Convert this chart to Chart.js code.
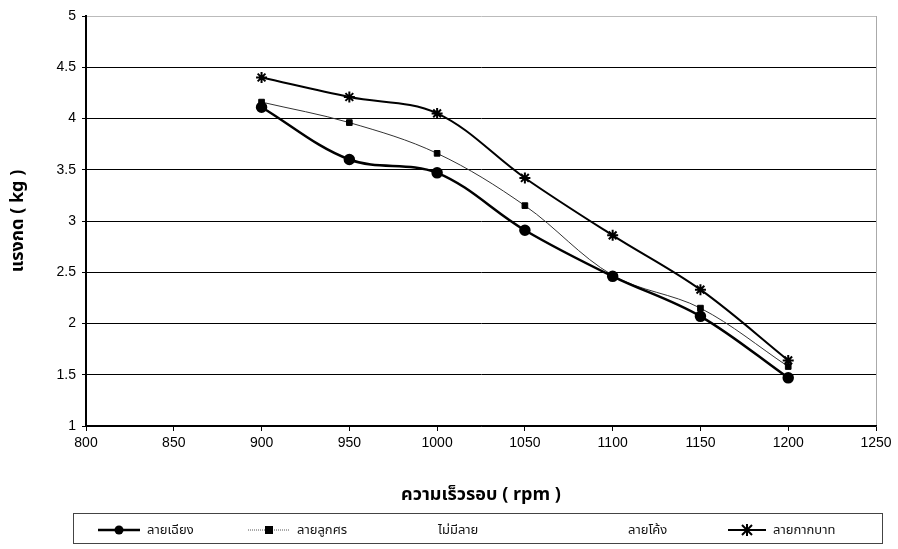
<!DOCTYPE html>
<html>
<head>
<meta charset="utf-8">
<script src="https://cdn.jsdelivr.net/npm/chart.js@4"></script>
<style>
  body { margin:0; background:#fff; }
  #wrap { position:relative; width:898px; height:549px; }
  #legend { position:absolute; left:73px; top:513px; width:810px; height:31px; border:1px solid #444; box-sizing:border-box;
    font-family:"Noto Sans Thai","Noto Sans","Liberation Sans",sans-serif; font-size:13px; color:#111; }
  #legend .it { position:absolute; top:6px; display:flex; align-items:center; white-space:nowrap; }
  #legend svg { margin-right:7px; }
</style>
</head>
<body>
<div id="wrap">
  <canvas id="c" width="898" height="549"></canvas>
  <div id="legend"></div>
</div>
<script>
const rpm = [900, 950, 1000, 1050, 1100, 1150, 1200];
const diagonal = [4.11, 3.60, 3.47, 2.91, 2.46, 2.07, 1.47];   // ลายเฉียง
const arrow    = [4.16, 3.96, 3.66, 3.15, 2.47, 2.15, 1.58];   // ลายลูกศร
const plain    = [];                                             // ไม่มีลาย (not visible in scan)
const curve    = [];                                             // ลายโค้ง (not visible in scan)
const cross    = [4.40, 4.21, 4.05, 3.42, 2.86, 2.33, 1.64];   // ลายกากบาท
const seriesNames = ['ลายเฉียง', 'ลายลูกศร', 'ไม่มีลาย', 'ลายโค้ง', 'ลายกากบาท'];
const yTicks = [1, 1.5, 2, 2.5, 3, 3.5, 4, 4.5, 5];

const pts = vals => vals.map((v, i) => ({ x: rpm[i], y: v }));
const font = 'Liberation Sans, Arial, sans-serif';
const thaiFont = '"Noto Sans Thai", "Noto Sans", "Liberation Sans", sans-serif';

new Chart(document.getElementById('c'), {
  type: 'line',
  data: {
    datasets: [
      { label: seriesNames[0], data: pts(diagonal), borderColor: '#000', backgroundColor: '#000', borderWidth: 2.5,
        pointStyle: 'circle', pointRadius: 4.5, tension: 0.35 },
      { label: seriesNames[1], data: pts(arrow), borderColor: '#333', backgroundColor: '#000', borderWidth: 1,
        pointStyle: 'rect', pointRadius: 4, pointBorderColor: '#000', tension: 0.35 },
      { label: seriesNames[2], data: pts(plain), borderColor: '#fff', borderWidth: 1, pointRadius: 0 },
      { label: seriesNames[3], data: pts(curve), borderColor: '#fff', borderWidth: 1, pointRadius: 0 },
      { label: seriesNames[4], data: pts(cross), borderColor: '#000', backgroundColor: '#000', borderWidth: 2,
        pointStyle: 'star', pointRadius: 5.5, pointBorderWidth: 2, tension: 0.35 }
    ]
  },
  options: {
    responsive: false,
    animation: false,
    layout: { padding: { top: 16, right: 22, left: 0, bottom: 40 } },
    plugins: { legend: { display: false }, tooltip: { enabled: false } },
    scales: {
      x: {
        type: 'linear', min: 800, max: 1250,
        ticks: { stepSize: 50, color: '#000', font: { family: font, size: 14 }, padding: 4, callback: v => String(v) },
        grid: { color: c => c.tick && c.tick.value === 1250 ? '#aaa' : 'transparent', tickColor: '#000', tickLength: 5 },
        border: { color: '#000', width: 1.5 },
        title: { display: true, text: 'ความเร็วรอบ ( rpm )', color: '#000',
          font: { family: thaiFont, size: 18, weight: 'bold' }, padding: { top: 0, bottom: 2 } },
        afterFit: s => { s.height = 83; }
      },
      y: {
        min: 1, max: 5,
        afterBuildTicks: s => { s.ticks = yTicks.map(v => ({ value: v })); },
        ticks: { color: '#000', font: { family: font, size: 14 }, padding: 6, callback: v => String(v) },
        grid: { color: c => c.tick && c.tick.value === 5 ? '#bbb' : '#000', lineWidth: 1, tickColor: '#000', tickLength: 4 },
        border: { color: '#000', width: 2 },
        title: { display: true, text: 'แรงกด ( kg )', color: '#000',
          font: { family: thaiFont, size: 18, weight: 'bold' }, padding: { top: 9, bottom: 2 } },
        afterFit: s => { s.width = 86; }
      }
    }
  }
});

// legend (HTML, Excel-like box under the chart)
const legendItems = [
  { name: seriesNames[0], left: 24, sym: '<line x1="0" y1="7" x2="42" y2="7" stroke="#000" stroke-width="2.5"/><circle cx="21" cy="7" r="4.5" fill="#000"/>' },
  { name: seriesNames[1], left: 174, sym: '<line x1="0" y1="7" x2="42" y2="7" stroke="#555" stroke-width="1" stroke-dasharray="1,1"/><rect x="17" y="3" width="8" height="8" fill="#000"/>' },
  { name: seriesNames[2], left: 364, sym: '' },
  { name: seriesNames[3], left: 554, sym: '' },
  { name: seriesNames[4], left: 654, sym: '<line x1="0" y1="7" x2="38" y2="7" stroke="#000" stroke-width="2"/><path d="M14 2 L24 12 M24 2 L14 12 M19 1 L19 13" stroke="#000" stroke-width="2"/>' }
];
const lg = document.getElementById('legend');
legendItems.forEach(it => {
  const d = document.createElement('div');
  d.className = 'it';
  d.style.left = it.left + 'px';
  d.innerHTML = (it.sym ? '<svg width="' + (it.left === 654 ? 38 : 42) + '" height="14">' + it.sym + '</svg>' : '') + '<span>' + it.name + '</span>';
  lg.appendChild(d);
});
</script>
</body>
</html>
